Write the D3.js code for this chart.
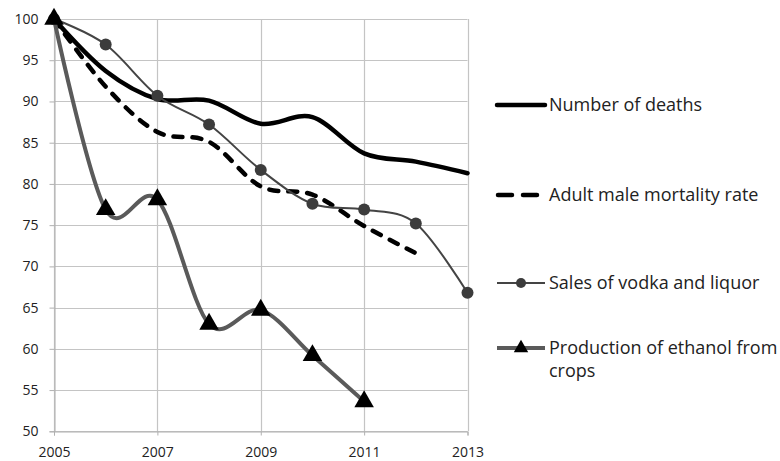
<!DOCTYPE html>
<html>
<head>
<meta charset="utf-8">
<script src="https://cdn.jsdelivr.net/npm/d3@7"></script>
<style>
  html, body { margin: 0; padding: 0; background: #fff; }
  svg { display: block; }
  text { font-family: "Open Sans", "Noto Sans", sans-serif; fill: #222; }
</style>
</head>
<body>
<svg id="chart" width="780" height="461"></svg>
<script>
const years = [2005, 2006, 2007, 2008, 2009, 2010, 2011, 2012, 2013];
const xTicks = [2005, 2007, 2009, 2011, 2013];
const yTicks = [50, 55, 60, 65, 70, 75, 80, 85, 90, 95, 100];

const deaths   = [100, 93.7, 90.3, 90.1, 87.3, 88.1, 83.7, 82.7, 81.3];
const adultMale = [100, 91.8, 86.3, 85.1, 79.7, 78.7, 74.9, 71.6, null];
const vodka    = [100, 96.9, 90.7, 87.2, 81.7, 77.6, 76.9, 75.2, 66.8];
const ethanol  = [100, 76.9, 78.1, 63.0, 64.7, 59.2, 53.6, null, null];

const seriesNames = [
  "Number of deaths",
  "Adult male mortality rate",
  "Sales of vodka and liquor",
  "Production of ethanol from crops"
];

const svg = d3.select("#chart");
const x = d3.scaleLinear().domain([2005, 2013]).range([54, 467.5]);
const y = d3.scaleLinear().domain([50, 100]).range([431.3, 19]);

// gridlines
const grid = svg.append("g");
grid.selectAll("line.h").data(yTicks).join("line")
  .attr("x1", x(2005)).attr("x2", x(2013))
  .attr("y1", d => Math.round(y(d)) + 0.5).attr("y2", d => Math.round(y(d)) + 0.5)
  .attr("stroke", "#c4c4c4").attr("stroke-width", 1.2);
grid.selectAll("line.v").data(xTicks).join("line")
  .attr("y1", y(100)).attr("y2", y(50))
  .attr("x1", d => Math.round(x(d)) + 0.5).attr("x2", d => Math.round(x(d)) + 0.5)
  .attr("stroke", "#c4c4c4").attr("stroke-width", 1.2);

// axes
const yAxis = d3.axisLeft(y).tickValues(yTicks).tickSize(5).tickPadding(11);
const gy = svg.append("g").attr("transform", `translate(${Math.round(x(2005)) + 0.5},0)`).call(yAxis);
gy.select(".domain").attr("stroke", "#b0b0b0");
gy.selectAll(".tick line").attr("stroke", "#b0b0b0");
gy.selectAll(".tick text").attr("font-size", 14).attr("font-family", "'Open Sans', sans-serif").attr("fill", "#2a2a2a");

const xAxis = d3.axisBottom(x).tickValues(xTicks).tickFormat(d3.format("d")).tickSize(4).tickPadding(12);
const gx = svg.append("g").attr("transform", `translate(0,${Math.round(y(50)) + 0.5})`).call(xAxis);
gx.select(".domain").attr("stroke", "#b0b0b0");
gx.selectAll(".tick line").attr("stroke", "#b0b0b0");
gx.selectAll(".tick text").attr("font-size", 14).attr("font-family", "'Open Sans', sans-serif").attr("fill", "#2a2a2a");

const curve = d3.curveCatmullRom.alpha(0);
const pts = vals => years.map((yr, i) => ({year: yr, v: vals[i]})).filter(d => d.v != null);
const mkLine = vals => d3.line()
  .x(d => x(d.year)).y(d => y(d.v))
  .curve(curve)(pts(vals));

// Number of deaths
svg.append("path").attr("d", mkLine(deaths))
  .attr("fill", "none").attr("stroke", "#000").attr("stroke-width", 4.5)
  .attr("stroke-linejoin", "round").attr("stroke-linecap", "round");

// Adult male mortality
svg.append("path").attr("d", mkLine(adultMale))
  .attr("fill", "none").attr("stroke", "#000").attr("stroke-width", 4.5)
  .attr("stroke-dasharray", "9,10").attr("stroke-linecap", "round");

// Vodka
svg.append("path").attr("d", mkLine(vodka))
  .attr("fill", "none").attr("stroke", "#444").attr("stroke-width", 2);
svg.append("g").selectAll("circle").data(pts(vodka)).join("circle")
  .attr("cx", d => x(d.year)).attr("cy", d => y(d.v)).attr("r", 6)
  .attr("fill", "#3c3c3c");

// Ethanol
svg.append("path").attr("d", mkLine(ethanol))
  .attr("fill", "none").attr("stroke", "#5a5a5a").attr("stroke-width", 4)
  .attr("stroke-linejoin", "round");
const tri = d3.symbol().type(d3.symbolTriangle).size(165);
svg.append("g").selectAll("path").data(pts(ethanol)).join("path")
  .attr("d", tri)
  .attr("transform", d => `translate(${x(d.year)},${y(d.v)})`)
  .attr("fill", "#000");

// Legend
const lx0 = 497, lx1 = 545, tx = 549;
const legRows = [105, 195, 283, 348];
const lg = svg.append("g");
lg.append("line").attr("x1", lx0).attr("x2", lx1).attr("y1", legRows[0]).attr("y2", legRows[0])
  .attr("stroke", "#000").attr("stroke-width", 4.5).attr("stroke-linecap", "round");
lg.append("line").attr("x1", lx0 + 1).attr("x2", lx1).attr("y1", legRows[1]).attr("y2", legRows[1])
  .attr("stroke", "#000").attr("stroke-width", 4.5).attr("stroke-linecap", "round")
  .attr("stroke-dasharray", "14,11");
lg.append("line").attr("x1", lx0).attr("x2", lx1).attr("y1", legRows[2]).attr("y2", legRows[2])
  .attr("stroke", "#444").attr("stroke-width", 2);
lg.append("circle").attr("cx", (lx0 + lx1) / 2).attr("cy", legRows[2]).attr("r", 5).attr("fill", "#3c3c3c");
lg.append("line").attr("x1", lx0).attr("x2", lx1).attr("y1", legRows[3]).attr("y2", legRows[3])
  .attr("stroke", "#5a5a5a").attr("stroke-width", 4);
lg.append("path").attr("d", d3.symbol().type(d3.symbolTriangle).size(90))
  .attr("transform", `translate(${(lx0 + lx1) / 2},${legRows[3]})`).attr("fill", "#000");

const fs = 18;
lg.append("text").attr("x", tx).attr("y", legRows[0]).attr("dy", "0.35em").attr("font-size", fs).text(seriesNames[0]);
lg.append("text").attr("x", tx).attr("y", legRows[1]).attr("dy", "0.35em").attr("font-size", fs).text(seriesNames[1]);
lg.append("text").attr("x", tx).attr("y", legRows[2]).attr("dy", "0.35em").attr("font-size", fs).text(seriesNames[2]);
const t4 = lg.append("text").attr("x", tx).attr("y", legRows[3]).attr("dy", "0.35em").attr("font-size", fs);
t4.append("tspan").attr("x", tx).text("Production of ethanol from");
t4.append("tspan").attr("x", tx).attr("dy", "1.25em").text("crops");
</script>
</body>
</html>
